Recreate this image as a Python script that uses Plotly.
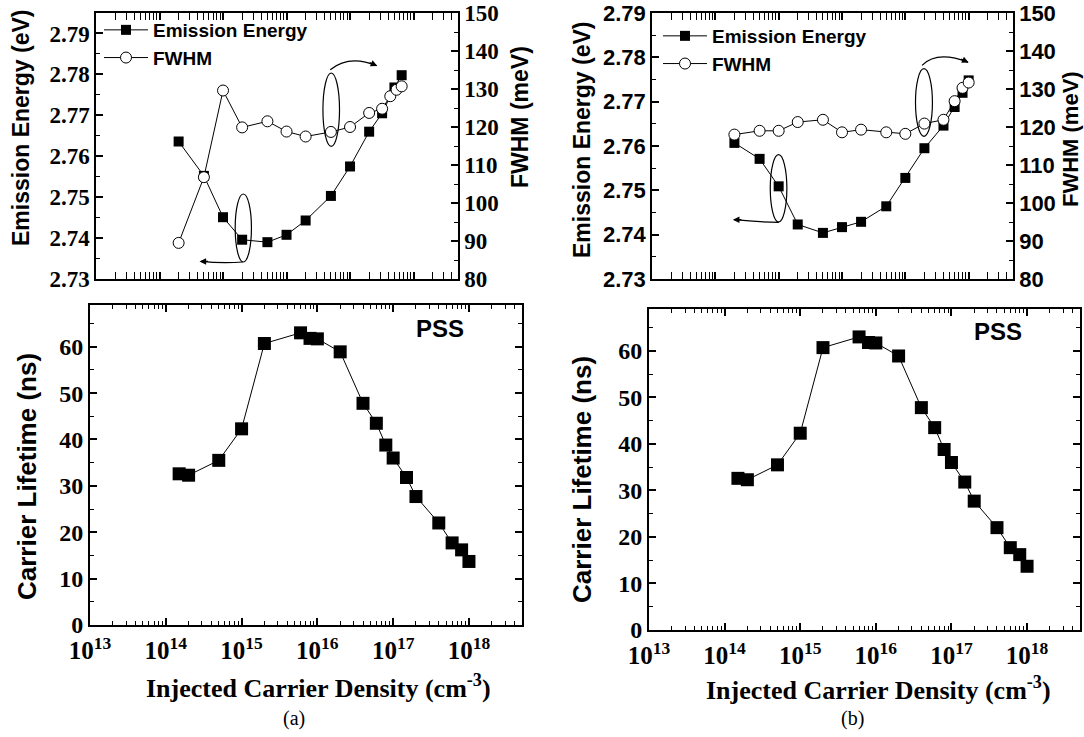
import plotly.graph_objects as go

# ---------------- data ----------------
# panel (a) top
xa_em = [2e14, 5e14, 1e15, 2e15, 5e15, 1e16, 2e16, 5e16, 1e17, 2e17, 3.2e17, 5e17, 6.5e17]
ya_em = [2.7636, 2.7552, 2.7451, 2.7396, 2.7390, 2.7408, 2.7443, 2.7503, 2.7575, 2.7660, 2.7705, 2.7768, 2.7798]
xa_fw = [2e14, 5e14, 1e15, 2e15, 5e15, 1e16, 2e16, 5e16, 1e17, 2e17, 3.2e17, 4.3e17, 5.4e17, 6.5e17]
ya_fw = [89.5, 106.8, 129.6, 119.9, 121.5, 118.8, 117.5, 118.7, 120.0, 123.7, 124.8, 128.1, 129.8, 130.7]

# panel (b) top
xb_top = [2e14, 5e14, 1e15, 2e15, 5e15, 1e16, 2e16, 5e16, 1e17, 2e17, 4e17, 6e17, 8e17, 1e18]
yb_em = [2.7607, 2.7571, 2.7509, 2.7423, 2.7404, 2.7417, 2.7429, 2.7464, 2.7528, 2.7595, 2.7646, 2.7688, 2.7720, 2.7748]
yb_fw = [118.0, 119.0, 119.0, 121.3, 121.9, 118.6, 119.3, 118.6, 118.2, 120.9, 121.9, 126.8, 130.3, 131.7]

# bottom panels (same data in a and b)
x_life = [1.5e14, 2e14, 5e14, 1e15, 2e15, 6e15, 8e15, 1e16, 2e16, 4e16, 6e16, 8e16,
          1e17, 1.5e17, 2e17, 4e17, 6e17, 8e17, 1e18]
y_life = [32.6, 32.3, 35.5, 42.3, 60.7, 63.0, 61.8, 61.7, 58.9, 47.8, 43.5, 38.8,
          36.0, 31.8, 27.7, 22.0, 17.7, 16.2, 13.7]

# tick labels
x_tickvals = [1e13, 1e14, 1e15, 1e16, 1e17, 1e18]
x_ticktext = ["<b>10<sup>13</sup></b>", "<b>10<sup>14</sup></b>", "<b>10<sup>15</sup></b>",
              "<b>10<sup>16</sup></b>", "<b>10<sup>17</sup></b>", "<b>10<sup>18</sup></b>"]
x_minorvals = [m * 10 ** e for e in range(13, 19) for m in range(2, 10)]
e_tickvals = [2.73, 2.74, 2.75, 2.76, 2.77, 2.78, 2.79]
e_ticktext = ["<b>2.73</b>", "<b>2.74</b>", "<b>2.75</b>", "<b>2.76</b>",
              "<b>2.77</b>", "<b>2.78</b>", "<b>2.79</b>"]
f_tickvals = [80, 90, 100, 110, 120, 130, 140, 150]
f_ticktext = ["<b>80</b>", "<b>90</b>", "<b>100</b>", "<b>110</b>",
              "<b>120</b>", "<b>130</b>", "<b>140</b>", "<b>150</b>"]
l_tickvals = [0, 10, 20, 30, 40, 50, 60]
l_ticktext = ["<b>0</b>", "<b>10</b>", "<b>20</b>", "<b>30</b>",
              "<b>40</b>", "<b>50</b>", "<b>60</b>"]

names = ["<b>Emission Energy</b>", "<b>FWHM</b>"]
x_title = "<b>Injected Carrier Density (cm<sup>-3</sup>)</b>"
y_titles = ["<b>Emission Energy (eV)</b>", "<b>FWHM (meV)</b>", "<b>Carrier Lifetime (ns)</b>"]

# ---------------- styles ----------------
W, H = 1084, 737
SERIF = "Liberation Serif"
SANS = "Liberation Sans"


def dom_x(p0, p1):
    return [p0 / W, p1 / W]


def dom_y(top, bot):
    return [1 - bot / H, 1 - top / H]


def px_x(p):
    return p / W


def px_y(p):
    return 1 - p / H


fig = go.Figure()

line_style = dict(color="black", width=1)
sq_small = dict(symbol="square", size=10, color="black")
circ = dict(symbol="circle", size=11, color="white", line=dict(color="black", width=1))
sq_big = dict(symbol="square", size=13, color="black")

# (a) top
fig.add_trace(go.Scatter(x=xa_em, y=ya_em, mode="lines+markers", name=names[0],
                         line=line_style, marker=sq_small, xaxis="x", yaxis="y", legend="legend"))
fig.add_trace(go.Scatter(x=xa_fw, y=ya_fw, mode="lines+markers", name=names[1],
                         line=line_style, marker=circ, xaxis="x", yaxis="y2", legend="legend"))
# (a) bottom
fig.add_trace(go.Scatter(x=x_life, y=y_life, mode="lines+markers", showlegend=False,
                         line=line_style, marker=sq_big, xaxis="x2", yaxis="y3"))
# (b) top
fig.add_trace(go.Scatter(x=xb_top, y=yb_em, mode="lines+markers", name=names[0],
                         line=line_style, marker=sq_small, xaxis="x3", yaxis="y4", legend="legend2"))
fig.add_trace(go.Scatter(x=xb_top, y=yb_fw, mode="lines+markers", name=names[1],
                         line=line_style, marker=circ, xaxis="x3", yaxis="y5", legend="legend2"))
# (b) bottom
fig.add_trace(go.Scatter(x=x_life, y=y_life, mode="lines+markers", showlegend=False,
                         line=line_style, marker=sq_big, xaxis="x4", yaxis="y6"))

XR = [13, 18.7]
MINOR_X = dict(ticks="inside", ticklen=4, tickwidth=1, tickcolor="black",
               tickmode="array", tickvals=x_minorvals, showgrid=False)


def xaxis_top(domain, anchor):
    return dict(type="log", range=XR, domain=domain, anchor=anchor, automargin=False,
                showline=True, linecolor="black", linewidth=1.5, mirror="allticks",
                ticks="inside", ticklen=7, tickwidth=1.5, tickcolor="black",
                tickmode="array", tickvals=x_tickvals, showticklabels=False,
                showgrid=False, zeroline=False, minor=MINOR_X)


def xaxis_bot(domain, anchor):
    return dict(type="log", range=XR, domain=domain, anchor=anchor, automargin=False,
                showline=True, linecolor="black", linewidth=2, mirror="allticks",
                ticks="inside", ticklen=7, tickwidth=1.5, tickcolor="black",
                tickmode="array", tickvals=x_tickvals, ticktext=x_ticktext,
                showgrid=False, zeroline=False, ticklabelstandoff=2,
                ticklabeloverflow="allow",
                tickfont=dict(family=SERIF, size=25, color="black"),
                minor=MINOR_X)


def yaxis_left(domain, anchor, rng, font_family, fsize):
    return dict(range=rng, domain=domain, anchor=anchor, side="left", automargin=False,
                showline=True, linecolor="black", linewidth=1.5,
                ticks="inside", ticklen=7, tickwidth=1.5, tickcolor="black",
                tickmode="array", tickvals=e_tickvals, ticktext=e_ticktext,
                showgrid=False, zeroline=False, ticklabeloverflow="allow",
                tickfont=dict(family=font_family, size=fsize, color="black"),
                minor=dict(ticks="inside", ticklen=4, tickwidth=1, tickcolor="black",
                           tick0=2.735, dtick=0.01, showgrid=False))


def yaxis_right(anchor, overlay, font_family, fsize):
    return dict(range=[80, 150], anchor=anchor, overlaying=overlay, side="right",
                automargin=False,
                showline=True, linecolor="black", linewidth=1.5,
                ticks="inside", ticklen=7, tickwidth=1.5, tickcolor="black",
                tickmode="array", tickvals=f_tickvals, ticktext=f_ticktext,
                showgrid=False, zeroline=False, ticklabeloverflow="allow",
                tickfont=dict(family=font_family, size=fsize, color="black"),
                minor=dict(ticks="inside", ticklen=4, tickwidth=1, tickcolor="black",
                           tick0=85, dtick=10, showgrid=False))


def yaxis_life(domain, anchor):
    return dict(range=[0, 69], domain=domain, anchor=anchor, automargin=False,
                showline=True, linecolor="black", linewidth=2, mirror="allticks",
                ticks="inside", ticklen=7, tickwidth=1.5, tickcolor="black",
                tickmode="array", tickvals=l_tickvals, ticktext=l_ticktext,
                showgrid=False, zeroline=False, ticklabeloverflow="allow",
                tickfont=dict(family=SERIF, size=24, color="black"),
                minor=dict(ticks="inside", ticklen=4, tickwidth=1, tickcolor="black",
                           tick0=5, dtick=10, showgrid=False))


ta_x = dom_x(96, 458)
ta_y = dom_y(13, 279)
ba_x = dom_x(90, 522)
ba_y = dom_y(305, 625)
tb_x = dom_x(652, 1013)
tb_y = dom_y(13, 279)
bb_x = dom_x(649, 1080)
bb_y = dom_y(309, 630)

legend_font = dict(family=SANS, size=19, color="black")

fig.update_layout(
    template="none",
    font=dict(family=SERIF, color="black"),
    width=W, height=H, margin=dict(l=0, r=0, t=0, b=0, autoexpand=False),
    paper_bgcolor="white", plot_bgcolor="white",
    xaxis=xaxis_top(ta_x, "y"),
    yaxis=yaxis_left(ta_y, "x", [2.73, 2.795], SERIF, 23),
    yaxis2=yaxis_right("x", "y", SERIF, 23),
    xaxis2=xaxis_bot(ba_x, "y3"),
    yaxis3=yaxis_life(ba_y, "x2"),
    xaxis3=xaxis_top(tb_x, "y4"),
    yaxis4=yaxis_left(tb_y, "x3", [2.73, 2.79], SANS, 22),
    yaxis5=yaxis_right("x3", "y4", SANS, 22),
    xaxis4=xaxis_bot(bb_x, "y6"),
    yaxis6=yaxis_life(bb_y, "x4"),
    legend=dict(x=99 / W, y=1 - 11 / H, xanchor="left", yanchor="top",
                bgcolor="rgba(0,0,0,0)", font=legend_font, tracegroupgap=0,
                itemsizing="trace", borderwidth=0, itemwidth=44),
    legend2=dict(x=658 / W, y=1 - 17 / H, xanchor="left", yanchor="top",
                 bgcolor="rgba(0,0,0,0)", font=legend_font, tracegroupgap=0,
                 itemsizing="trace", borderwidth=0, itemwidth=44),
    showlegend=True,
)

# ---------------- decorations (ellipses and curved arrows) ----------------
shapes = []
annotations = []


def add_deco(xr, yr, ell1, arr1, ell2, arr2, head1, head2):
    xref = xr + " domain"
    yref = yr + " domain"
    for e in (ell1, ell2):
        shapes.append(dict(type="circle", xref=xref, yref=yref,
                           x0=e[0], x1=e[1], y0=e[2], y1=e[3],
                           line=dict(color="black", width=1.2)))
    for a in (arr1, arr2):
        (sx, sy), (cx, cy), (ex, ey) = a
        shapes.append(dict(type="path", xref=xref, yref=yref,
                           path=f"M {sx},{sy} Q {cx},{cy} {ex},{ey}",
                           line=dict(color="black", width=1.2)))
    for (ex, ey, ax, ay) in (head1, head2):
        annotations.append(dict(xref=xref, yref=yref, x=ex, y=ey, ax=ax, ay=ay,
                                text="", showarrow=True, arrowhead=2, arrowsize=1.1,
                                arrowwidth=1.2, arrowcolor="black", standoff=0))


# (a) top
add_deco("x", "y",
         (0.3845, 0.4294, 0.0639, 0.3195),
         ((0.4055, 0.064), (0.35, 0.058), (0.29, 0.066)),
         (0.6269, 0.6727, 0.4987, 0.7744),
         ((0.647, 0.787), (0.70, 0.845), (0.775, 0.802)),
         (0.286, 0.066, 10, 0), (0.777, 0.801, -9, -4))
# (b) top
add_deco("x3", "y4",
         (0.3276, 0.3736, 0.2143, 0.4674),
         ((0.3515, 0.213), (0.29, 0.214), (0.228, 0.223)),
         (0.7299, 0.7768, 0.5363, 0.7907),
         ((0.7481, 0.8033), (0.79, 0.86), (0.8755, 0.8145)),
         (0.224, 0.223, 10, 0), (0.877, 0.814, -9, -4))


def text_ann(text, px, py, family, size, angle=0):
    annotations.append(dict(xref="paper", yref="paper", x=px_x(px), y=px_y(py),
                            xanchor="center", yanchor="middle", text=text,
                            textangle=angle, showarrow=False,
                            font=dict(family=family, size=size, color="black")))


# axis titles
text_ann(y_titles[0], 21, 128, SANS, 23, -90)
text_ann(y_titles[1], 520, 117, SANS, 23, -90)
text_ann(y_titles[2], 27, 477, SANS, 26, -90)
text_ann(x_title, 318, 686, SERIF, 26)
text_ann(y_titles[0], 582, 140, SANS, 23, -90)
text_ann(y_titles[1], 1070, 139, SANS, 22, -90)
text_ann(y_titles[2], 582, 480, SANS, 26, -90)
text_ann(x_title, 878, 688, SERIF, 26)

# PSS labels
text_ann("<b>PSS</b>", 440, 328, SANS, 24)
text_ann("<b>PSS</b>", 998, 332, SANS, 24)

# (a), (b) captions
text_ann("(a)", 294, 718, SERIF, 20)
text_ann("(b)", 852, 718, SERIF, 20)

fig.update_layout(shapes=shapes, annotations=annotations)

# the page keeps the figure flush with the window's top-left corner
fig.write_html("out.html", config={"displayModeBar": False},
               post_script="document.body.style.margin='0px';")
